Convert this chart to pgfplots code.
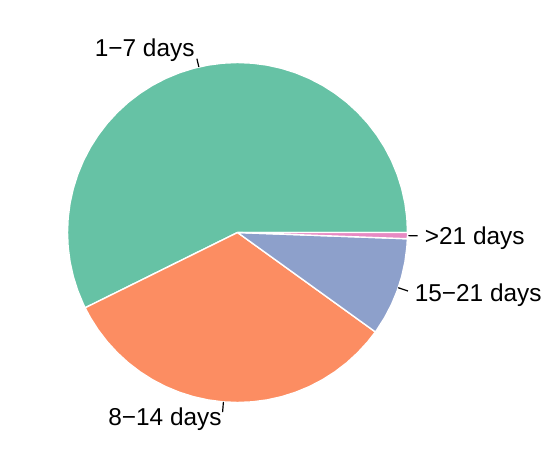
\documentclass[border=0pt]{standalone}
\usepackage{pgfplots}
\pgfplotsset{compat=1.18}
\usepgfplotslibrary{polar}
\usepackage{fontspec}
\setmainfont{Liberation Sans}
\definecolor{cgreen}{HTML}{66C2A5}
\definecolor{corange}{HTML}{FC8D62}
\definecolor{cblue}{HTML}{8DA0CB}
\definecolor{cpink}{HTML}{E78AC3}
\begin{document}
\begin{tikzpicture}
\begin{polaraxis}[
  at={(118.75pt,119.75pt)}, anchor=center,
  width=170pt, height=170pt, scale only axis,
  hide axis, clip=false,
  ymin=0, ymax=1, xmin=0, xmax=360,
]
% slice boundaries (degrees, counter-clockwise from east):
% 1-7 days: 0-206.3 ; 8-14 days: 206.3-324.2 ; 15-21 days: 324.2-357.9 ; >21 days: 357.9-360
\addplot[fill=cgreen, draw=white, line width=0.7pt, line join=round, mark=none] coordinates {
(0,0) (0,1) (5,1) (10,1) (15,1) (20,1) (25,1) (30,1) (35,1) (40,1) (45,1) (50,1) (55,1) (60,1)
(65,1) (70,1) (75,1) (80,1) (85,1) (90,1) (95,1) (100,1) (105,1) (110,1) (115,1) (120,1) (125,1)
(130,1) (135,1) (140,1) (145,1) (150,1) (155,1) (160,1) (165,1) (170,1) (175,1) (180,1) (185,1)
(190,1) (195,1) (200,1) (205,1) (206.3,1) (0,0)};
\addplot[fill=corange, draw=white, line width=0.7pt, line join=round, mark=none] coordinates {
(0,0) (206.3,1) (210,1) (215,1) (220,1) (225,1) (230,1) (235,1) (240,1) (245,1) (250,1) (255,1)
(260,1) (265,1) (270,1) (275,1) (280,1) (285,1) (290,1) (295,1) (300,1) (305,1) (310,1) (315,1)
(320,1) (324.2,1) (0,0)};
\addplot[fill=cblue, draw=white, line width=0.7pt, line join=round, mark=none] coordinates {
(0,0) (324.2,1) (325,1) (330,1) (335,1) (340,1) (345,1) (350,1) (355,1) (357.9,1) (0,0)};
\addplot[fill=cpink, draw=white, line width=0.7pt, line join=round, mark=none] coordinates {
(0,0) (357.9,1) (359,1) (360,1) (0,0)};
% leader lines
\addplot[black, line width=0.6pt, mark=none] coordinates {(103.15,1.0) (103.15,1.05)};
\addplot[black, line width=0.6pt, mark=none] coordinates {(265.25,1.0) (265.25,1.06)};
\addplot[black, line width=0.6pt, mark=none] coordinates {(341.05,1.0) (341.05,1.06)};
\addplot[black, line width=0.6pt, mark=none] coordinates {(358.95,1.005) (358.95,1.06)};
% labels
\node[anchor=east, inner sep=0pt, font=\fontsize{12.2}{14}\selectfont] at (axis cs:103.15,1.1) {1−7 days};
\node[anchor=east, inner sep=0pt, font=\fontsize{12.2}{14}\selectfont] at (axis cs:265.25,1.1) {8−14 days};
\node[anchor=west, inner sep=0pt, yshift=-1pt, font=\fontsize{12.2}{14}\selectfont] at (axis cs:341.05,1.1) {15−21 days};
\node[anchor=west, inner sep=0pt, yshift=-1pt, font=\fontsize{12.2}{14}\selectfont] at (axis cs:358.95,1.1) {>21 days};
\end{polaraxis}
\pgfresetboundingbox
\path (0,0) rectangle (278pt,236pt);
\end{tikzpicture}
\end{document}
